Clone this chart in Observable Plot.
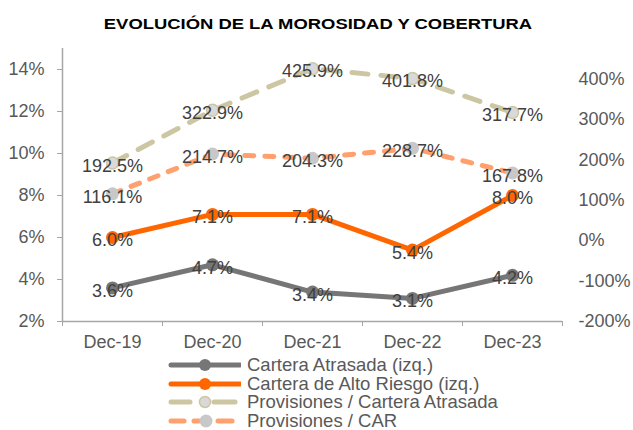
<!DOCTYPE html>
<html>
<head>
<meta charset="utf-8">
<script src="https://cdn.jsdelivr.net/npm/d3@7"></script>
<script src="https://cdn.jsdelivr.net/npm/@observablehq/plot@0.6"></script>
<style>
  body { margin: 0; background: #fff; font-family: "Liberation Sans", Arial, sans-serif; }
  #wrap { position: relative; width: 633px; height: 430px; }
  #title { position: absolute; top: 0; left: 0; width: 633px; height: 36px; }
  #title span { position: absolute; left: 318px; top: 16px; font-weight: bold; font-size: 14.5px; line-height: 16px; color: #000;
    white-space: nowrap; transform: translateX(-50%) scaleX(1.27); transform-origin: center; }
  #chart { position: absolute; top: 36px; left: 0; }
  #legend { position: absolute; top: 356px; left: 168px; font-size: 18.5px; color: #595959; line-height: 18.5px; }
  .row { display: flex; align-items: center; height: 18.5px; white-space: nowrap; }
  .row svg { flex: none; margin-right: 6px; }
</style>
</head>
<body>
<div id="wrap">
  <div id="title"><span>EVOLUCIÓN DE LA MOROSIDAD Y COBERTURA</span></div>
  <div id="chart"></div>
  <div id="legend"></div>
</div>
<script>
const categories = ["Dec-19", "Dec-20", "Dec-21", "Dec-22", "Dec-23"];
const carteraAtrasada = [3.6, 4.7, 3.4, 3.1, 4.2];
const carteraAltoRiesgo = [6.0, 7.1, 7.1, 5.4, 8.0];
const provCarteraAtrasada = [192.5, 322.9, 425.9, 401.8, 317.7];
const provCAR = [116.1, 214.7, 204.3, 228.7, 167.8];
const leftTicks = [2, 4, 6, 8, 10, 12, 14];
const rightTicks = [-200, -100, 0, 100, 200, 300, 400];
const seriesNames = ["Cartera Atrasada (izq.)", "Cartera de Alto Riesgo (izq.)", "Provisiones / Cartera Atrasada", "Provisiones / CAR"];

// left axis [2%,15%] ; right axis [-200%,476%]
const LMIN = 2, LMAX = 15, RMIN = -200, RMAX = 476;
const toLeft = v => LMIN + (v - RMIN) * (LMAX - LMIN) / (RMAX - RMIN);
const toRight = v => RMIN + (v - LMIN) * (RMAX - RMIN) / (LMAX - LMIN);

const mk = (arr, right) => arr.map((v, i) => ({i, v, y: right ? toLeft(v) : v, label: v.toFixed(1) + "%"}));
const sA = mk(carteraAtrasada, false);
const sR = mk(carteraAltoRiesgo, false);
const sP = mk(provCarteraAtrasada, true);
const sC = mk(provCAR, true);

const cGray = "#767676", cOrange = "#FF6600", cTan = "#CCC6A2", cLightOr = "#FFA06E";
const axisColor = "#A6A6A6", tickText = "#595959", labelText = "#404040";
const fs = 18;

const plot = Plot.plot({
  width: 633,
  height: 320,
  marginLeft: 62,
  marginRight: 71,
  marginTop: 12,
  marginBottom: 35,
  style: {fontFamily: "'Liberation Sans', Arial, sans-serif", fontSize: fs + "px", background: "transparent"},
  x: {type: "linear", domain: [-0.5, 4.5], axis: null},
  y: {domain: [LMIN, LMAX], axis: null},
  marks: [
    Plot.ruleX([-0.5], {y1: LMIN, y2: LMAX, stroke: axisColor, strokeWidth: 1.5}),
    Plot.ruleY([LMIN], {x1: -0.5, x2: 4.5, stroke: axisColor, strokeWidth: 1.5}),
    Plot.axisY({anchor: "left", ticks: leftTicks, tickSize: 5, tickPadding: 13, stroke: axisColor,
      tickFormat: d => d + "%", fill: tickText, fontSize: fs, label: null}),
    Plot.axisY({anchor: "right", ticks: rightTicks.map(toLeft), tickSize: 0, tickPadding: 16,
      tickFormat: d => Math.round(toRight(d)) + "%", fill: tickText, fontSize: fs, label: null, textAnchor: "start"}),
    Plot.axisX({ticks: [-0.5, 0.5, 1.5, 2.5, 3.5, 4.5], tickSize: 5, stroke: axisColor, tickFormat: () => "", label: null}),
    Plot.axisX({ticks: [0, 1, 2, 3, 4], tickSize: 0, tickPadding: 14, tickFormat: d => categories[d],
      fill: tickText, fontSize: fs, label: null}),
    Plot.line(sP, {x: "i", y: "y", stroke: cTan, strokeWidth: 5, strokeDasharray: "16,13", strokeLinecap: "round"}),
    Plot.line(sC, {x: "i", y: "y", stroke: cLightOr, strokeWidth: 5, strokeDasharray: "9,11", strokeLinecap: "round"}),
    Plot.line(sA, {x: "i", y: "y", stroke: cGray, strokeWidth: 5, strokeLinecap: "round"}),
    Plot.line(sR, {x: "i", y: "y", stroke: cOrange, strokeWidth: 5, strokeLinecap: "round"}),
    Plot.dot(sP, {x: "i", y: "y", r: 6, fill: "#D9D9D9", stroke: cTan, strokeWidth: 1.5}),
    Plot.dot(sC, {x: "i", y: "y", r: 6.5, fill: "#C8C8C8"}),
    Plot.dot(sA, {x: "i", y: "y", r: 6.5, fill: cGray}),
    Plot.dot(sR, {x: "i", y: "y", r: 6.5, fill: cOrange}),
    Plot.text([...sP, ...sC, ...sA, ...sR], {x: "i", y: "y", text: "label", fill: labelText, fontSize: fs, dy: 3})
  ]
});
document.getElementById("chart").appendChild(plot);

// legend
const legendSymbols = [
  `<line x1="3" y1="9" x2="72" y2="9" stroke="${cGray}" stroke-width="5" stroke-linecap="round"/><circle cx="37" cy="9" r="6" fill="${cGray}"/>`,
  `<line x1="3" y1="9" x2="72" y2="9" stroke="${cOrange}" stroke-width="5" stroke-linecap="round"/><circle cx="37" cy="9" r="6" fill="${cOrange}"/>`,
  `<line x1="3" y1="9" x2="22" y2="9" stroke="${cTan}" stroke-width="5" stroke-linecap="round"/><line x1="46" y1="9" x2="67" y2="9" stroke="${cTan}" stroke-width="5" stroke-linecap="round"/><circle cx="37" cy="9" r="5.5" fill="#D9D9D9" stroke="${cTan}" stroke-width="1.5"/>`,
  `<line x1="3" y1="9" x2="16" y2="9" stroke="${cLightOr}" stroke-width="5" stroke-linecap="round"/><line x1="26" y1="9" x2="31" y2="9" stroke="${cLightOr}" stroke-width="5" stroke-linecap="round"/><line x1="50" y1="9" x2="64" y2="9" stroke="${cLightOr}" stroke-width="5" stroke-linecap="round"/><circle cx="38" cy="9" r="6.5" fill="#C8C8C8"/>`
];
const legend = document.getElementById("legend");
seriesNames.forEach((name, k) => {
  const row = document.createElement("div");
  row.className = "row";
  row.innerHTML = `<svg width="73" height="18" viewBox="0 0 73 18">${legendSymbols[k]}</svg><span>${name}</span>`;
  legend.appendChild(row);
});
</script>
</body>
</html>
